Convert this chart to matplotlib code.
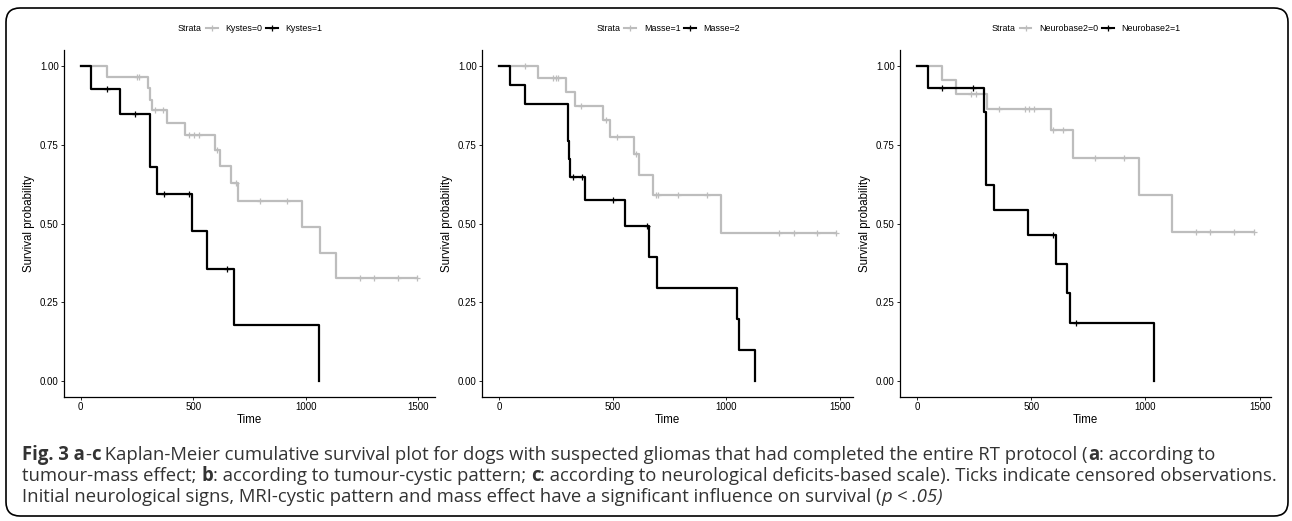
import numpy as np
import matplotlib
matplotlib.use('Agg')
import matplotlib.pyplot as plt
from matplotlib.lines import Line2D
from matplotlib.patches import FancyBboxPatch
from matplotlib.transforms import IdentityTransform

plt.rcParams['font.family'] = ['Liberation Sans', 'DejaVu Sans']

# --- data (time in days, survival probability) ---
# a: Kystes
kystes0_t = [0, 116, 301, 310, 316, 383, 464, 597, 619, 667, 699, 984, 1064, 1134, 1492]
kystes0_s = [1.0, 0.963, 0.928, 0.893, 0.86, 0.819, 0.779, 0.733, 0.683, 0.628, 0.571, 0.49, 0.408, 0.327, 0.327]
kystes0_cens = [249, 260, 331, 367, 482, 504, 525, 607, 692, 795, 918, 1239, 1304, 1408, 1492]
kystes1_t = [0, 47, 175, 306, 310, 341, 493, 563, 683, 1059]
kystes1_s = [1.0, 0.926, 0.848, 0.765, 0.68, 0.594, 0.477, 0.357, 0.178, 0.0]
kystes1_cens = [116, 242, 369, 480, 651]

# b: Masse
masse1_t = [0, 173, 294, 335, 456, 488, 593, 615, 676, 976, 1481]
masse1_s = [1.0, 0.96, 0.918, 0.872, 0.827, 0.775, 0.72, 0.655, 0.59, 0.47, 0.47]
masse1_cens = [115, 239, 250, 260, 360, 471, 520, 602, 691, 700, 788, 913, 1231, 1295, 1398, 1481]
masse2_t = [0, 48, 114, 303, 306, 309, 312, 380, 556, 661, 694, 1046, 1056, 1126]
masse2_s = [1.0, 0.94, 0.88, 0.82, 0.763, 0.705, 0.646, 0.575, 0.492, 0.394, 0.295, 0.197, 0.098, 0.0]
masse2_cens = [326, 366, 502, 649]

# c: Neurobase2
neuro0_t = [0, 109, 171, 307, 589, 685, 970, 1117, 1474]
neuro0_s = [1.0, 0.955, 0.91, 0.864, 0.797, 0.709, 0.591, 0.473, 0.473]
neuro0_cens = [237, 257, 361, 472, 492, 513, 594, 638, 780, 905, 1220, 1285, 1389, 1474]
neuro1_t = [0, 47, 295, 301, 304, 336, 485, 609, 656, 671, 1040]
neuro1_s = [1.0, 0.931, 0.853, 0.776, 0.622, 0.543, 0.465, 0.372, 0.279, 0.186, 0.0]
neuro1_cens = [112, 244, 597, 697]

panels = [
    (['Kystes=0', 'Kystes=1'], [(kystes0_t, kystes0_s, kystes0_cens), (kystes1_t, kystes1_s, kystes1_cens)]),
    (['Masse=1', 'Masse=2'], [(masse1_t, masse1_s, masse1_cens), (masse2_t, masse2_s, masse2_cens)]),
    (['Neurobase2=0', 'Neurobase2=1'], [(neuro0_t, neuro0_s, neuro0_cens), (neuro1_t, neuro1_s, neuro1_cens)]),
]

colors = ['#BDBDBD', '#000000']
W, H = 1292, 521
fig = plt.figure(figsize=(W / 100, H / 100), dpi=100)

ax_left = [64, 482, 900]
ax_xmax = [1574, 1556, 1550]
ax_w = 371
ax_top, ax_bot = 50, 397

for (labels, groups), lx, xmax in zip(panels, ax_left, ax_xmax):
    ax = fig.add_axes([lx / W, 1 - ax_bot / H, ax_w / W, (ax_bot - ax_top) / H])
    for (t, s, cens), col in zip(groups, colors):
        t = np.array(t); s = np.array(s); cens = np.array(cens)
        ax.step(t, s, where='post', color=col, lw=1.6)
        idx = np.searchsorted(t, cens, side='right') - 1
        ax.plot(cens, s[idx], ls='none', marker='+', color=col, ms=5, mew=0.9)
    ax.set_ylim(-0.05, 1.05)
    ax.set_xlim(-74, xmax)
    ax.set_xticks([0, 500, 1000, 1500])
    ax.set_yticks([0, 0.25, 0.5, 0.75, 1.0])
    ax.set_yticklabels(['0.00', '0.25', '0.50', '0.75', '1.00'])
    for sp in ['top', 'right']:
        ax.spines[sp].set_visible(False)
    for sp in ['left', 'bottom']:
        ax.spines[sp].set_linewidth(0.9)
    ax.tick_params(labelsize=7, length=2.2, width=0.6, pad=1.5, colors='black')
    ax.set_xlabel('Time', fontsize=8.3, labelpad=1)
    ax.set_ylabel('Survival probability', fontsize=8.3, labelpad=4)

    handles = [Line2D([], [], color=c, lw=1.5, marker='+', ms=5, mew=0.9) for c in colors]
    leg = ax.legend(handles, labels, ncol=2, loc='center', bbox_to_anchor=(0.54, 1.063),
                    frameon=False, fontsize=6.4, handlelength=1.3, handletextpad=0.9,
                    columnspacing=0.4, borderpad=0, borderaxespad=0, numpoints=1)
    ax.annotate('Strata', xy=(0, 0.5), xycoords=leg, xytext=(-3, 0), textcoords='offset points',
                ha='right', va='center', fontsize=6.4)

# rounded frame around the figure
frame = FancyBboxPatch((6, 5), 1282, 508, boxstyle='round,pad=0,rounding_size=14',
                       transform=IdentityTransform(), fill=False, ec='black', lw=1.2)
fig.patches.append(frame)

# caption with mixed bold / italic pieces
cap_font = ['Open Sans', 'DejaVu Sans']
cap_size = 13.35
cap_col = '#333333'
renderer = fig.canvas.get_renderer()


def text_width(s, **kw):
    t1 = fig.text(0, 0, s + '.', **kw)
    t2 = fig.text(0, 0, '.', **kw)
    w = t1.get_window_extent(renderer).width - t2.get_window_extent(renderer).width
    t1.remove(); t2.remove()
    return w


def rich_line(x, y, parts):
    for s, w, st in parts:
        kw = dict(fontsize=cap_size, family=cap_font, fontweight=w, fontstyle=st, color=cap_col)
        fig.text(x / W, 1 - y / H, s, va='baseline', ha='left', **kw)
        x += text_width(s, **kw)


N, B, I = 'normal', 'bold', 'italic'
rich_line(22, 460, [('Fig. 3 a', B, N), ('-', N, N), ('c', B, N),
                    (' Kaplan-Meier cumulative survival plot for dogs with suspected gliomas that had '
                     'completed the entire RT protocol (', N, N), ('a', B, N), (': according to', N, N)])
rich_line(22, 481, [('tumour-mass effect; ', N, N), ('b', B, N), (': according to tumour-cystic pattern; ', N, N),
                    ('c', B, N), (': according to neurological deficits-based scale). Ticks indicate censored '
                                  'observations.', N, N)])
rich_line(22, 502, [('Initial neurological signs, MRI-cystic pattern and mass effect have a significant '
                     'influence on survival (', N, N), ('p', N, I), (' < .05)', N, I)])

fig.savefig('out.png', dpi=100)
